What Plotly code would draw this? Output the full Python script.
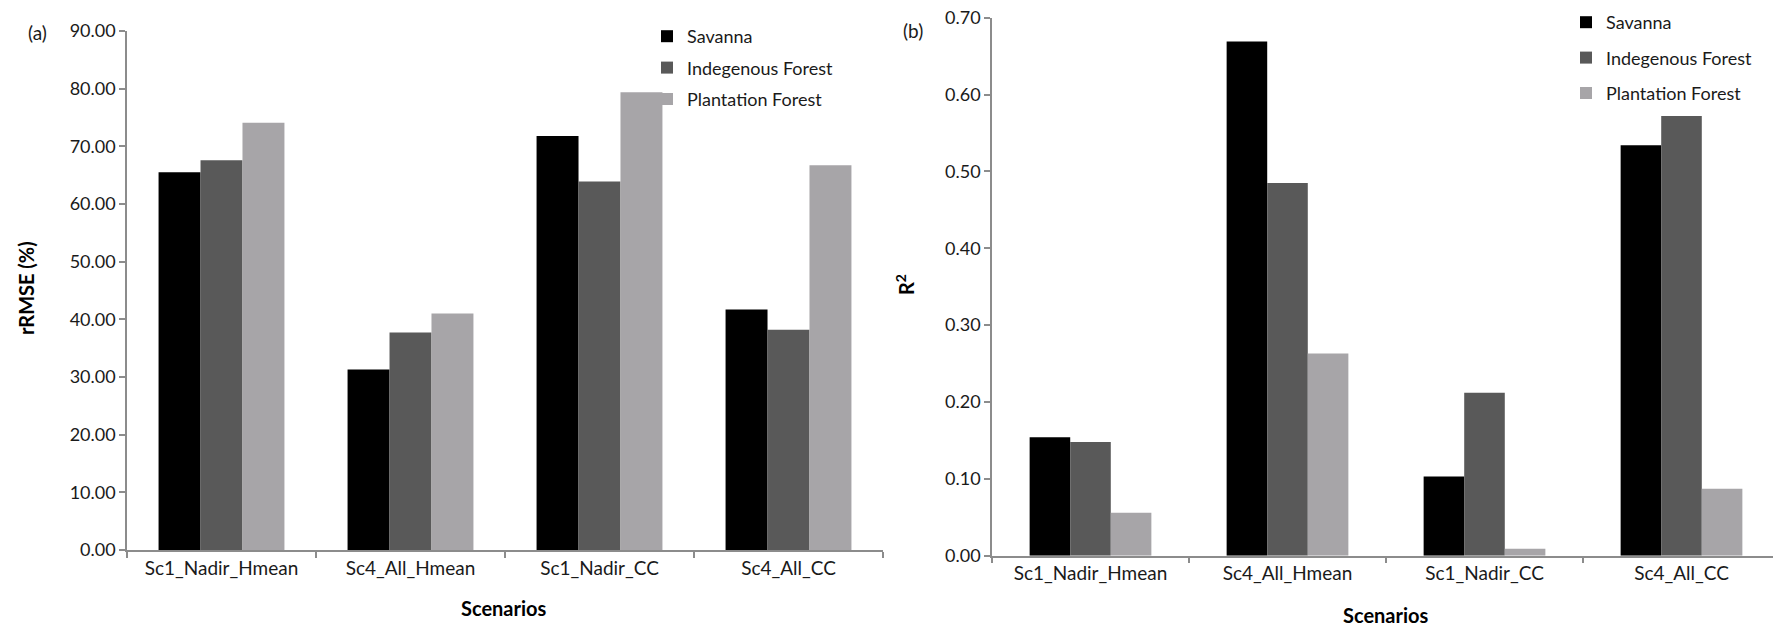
import plotly.graph_objects as go

scenarios = ["Sc1_Nadir_Hmean", "Sc4_All_Hmean", "Sc1_Nadir_CC", "Sc4_All_CC"]
series_names = ["Savanna", "Indegenous Forest", "Plantation Forest"]
colors = ["#000000", "#595959", "#a7a5a8"]

rrmse_savanna = [65.5, 31.3, 71.8, 41.7]
rrmse_indigenous = [67.6, 37.7, 63.9, 38.2]
rrmse_plantation = [74.1, 41.0, 79.4, 66.7]

r2_savanna = [0.154, 0.669, 0.103, 0.534]
r2_indigenous = [0.148, 0.485, 0.212, 0.572]
r2_plantation = [0.056, 0.263, 0.009, 0.087]

W, H = 1773, 627
FONT = "Lato"
TXT = "#1a1a1a"
AX = "#8c8c8c"

fig = go.Figure()

left_vals = [rrmse_savanna, rrmse_indigenous, rrmse_plantation]
right_vals = [r2_savanna, r2_indigenous, r2_plantation]

wl = 0.222
wr = 0.206
for i, (name, vals, c) in enumerate(zip(series_names, left_vals, colors)):
    fig.add_trace(go.Bar(
        x=scenarios, y=vals, name=name, marker=dict(color=c, line=dict(width=0)),
        width=wl, offset=-1.5 * wl + i * wl, xaxis="x", yaxis="y",
        legend="legend", legendgroup="l" + str(i)))
for i, (name, vals, c) in enumerate(zip(series_names, right_vals, colors)):
    fig.add_trace(go.Bar(
        x=scenarios, y=vals, name=name, marker=dict(color=c, line=dict(width=0)),
        width=wr, offset=-1.5 * wr + i * wr, xaxis="x2", yaxis="y2",
        legend="legend2", legendgroup="r" + str(i)))

def xpx(p):
    return p / W

def ypx(p):
    return 1 - p / H

axis_common = dict(showline=True, linecolor=AX, linewidth=1.5, ticks="outside",
                   tickcolor=AX, ticklen=6, tickwidth=1.5, showgrid=False, zeroline=False)
yfont = dict(family=FONT, size=18, color=TXT)
xfont = dict(family=FONT, size=19, color=TXT)
tfont = dict(family=FONT, size=20, color="#000")

fig.update_layout(
    width=W, height=H, plot_bgcolor="white", paper_bgcolor="white",
    margin=dict(l=0, r=0, t=0, b=0, autoexpand=False),
    barmode="overlay",
    showlegend=True,
    xaxis=dict(domain=[xpx(127), xpx(883)], anchor="y", type="category",
               range=[-0.5, 3.5], tickson="boundaries", tickfont=xfont, **axis_common),
    yaxis=dict(domain=[ypx(550), ypx(31)], anchor="x", range=[0, 90], dtick=10,
               tickformat=".2f", tickfont=yfont, **axis_common),
    xaxis2=dict(domain=[xpx(992), 1.0], anchor="y2", type="category",
                range=[-0.5, -0.5 + (1773 - 992) / 197.0], tickson="boundaries",
                tickfont=xfont, **axis_common),
    yaxis2=dict(domain=[ypx(555.7), ypx(17.7)], anchor="x2", range=[0, 0.7], dtick=0.1,
                tickformat=".2f", tickfont=yfont, **axis_common),
    legend=dict(x=xpx(647), y=ypx(18), xanchor="left", yanchor="top",
                font=dict(family=FONT, size=18, color=TXT), tracegroupgap=5,
                bgcolor="rgba(0,0,0,0)"),
    legend2=dict(x=xpx(1566), y=ypx(4), xanchor="left", yanchor="top",
                 font=dict(family=FONT, size=18, color=TXT), tracegroupgap=9,
                 bgcolor="rgba(0,0,0,0)"),
    annotations=[
        dict(text="(a)", x=xpx(37), y=ypx(32), xref="paper", yref="paper",
             xanchor="center", yanchor="middle", showarrow=False,
             font=dict(family=FONT, size=19, color=TXT)),
        dict(text="(b)", x=xpx(913), y=ypx(31), xref="paper", yref="paper",
             xanchor="center", yanchor="middle", showarrow=False,
             font=dict(family=FONT, size=19, color=TXT)),
        dict(text="<b>rRMSE (%)</b>", x=xpx(26), y=ypx(288), xref="paper", yref="paper",
             xanchor="center", yanchor="middle",
             textangle=-90, showarrow=False, font=tfont),
        dict(text="<b>R<sup>2</sup></b>", x=xpx(905), y=ypx(284), xref="paper", yref="paper",
             xanchor="center", yanchor="middle",
             textangle=-90, showarrow=False, font=tfont),
        dict(text="<b>Scenarios</b>", x=xpx(504), y=ypx(608), xref="paper", yref="paper",
             xanchor="center", yanchor="middle", showarrow=False, font=tfont),
        dict(text="<b>Scenarios</b>", x=xpx(1386), y=ypx(615), xref="paper", yref="paper",
             xanchor="center", yanchor="middle", showarrow=False, font=tfont),
    ],
)

fig.write_html("out.html", post_script="document.body.style.margin='0';",
               config={"displayModeBar": False})
